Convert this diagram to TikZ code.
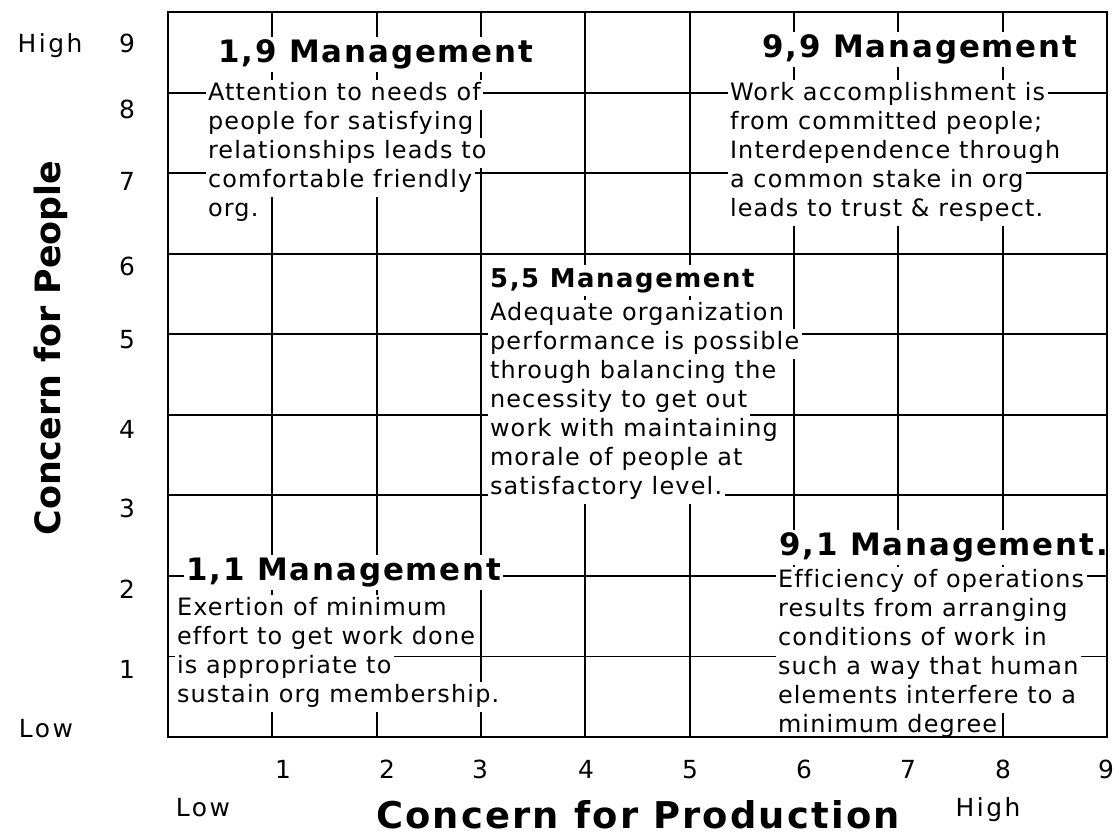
\documentclass[tikz,border=0pt]{standalone}
\usepackage{fontspec}
\setmainfont{DejaVu Sans}[Ligatures=NoCommon]
\usetikzlibrary{positioning}

\tikzset{
  gridline/.style={line width=1.9bp},
  border/.style={line width=2.4bp},
  head/.style={anchor=base west, fill=white, inner xsep=2bp, inner ysep=2bp,
    text height=23bp, text depth=8bp,
    font=\fontsize{31}{36}\selectfont\bfseries\addfontfeature{LetterSpace=6}},
  subhead/.style={head, text height=20bp, text depth=7bp,
    font=\fontsize{26}{31}\selectfont\bfseries\addfontfeature{LetterSpace=6}},
  body/.style={anchor=base west, fill=white, draw=white, line width=1bp, outer sep=0pt,
    inner xsep=2bp, inner ysep=3bp, text height=17bp, text depth=6bp,
    font=\fontsize{24}{29}\selectfont\addfontfeature{LetterSpace=5}},
  ticklabel/.style={anchor=base, font=\fontsize{25}{30}\selectfont\addfontfeature{LetterSpace=10}},
  axislabel/.style={anchor=base, font=\fontsize{37}{44}\selectfont\bfseries\addfontfeature{LetterSpace=6}},
}

\begin{document}
\begin{tikzpicture}[x=1bp, y=-1bp]
  \useasboundingbox (0,0) rectangle (1119,838);
  % grid
  \foreach \k in {1,...,8} {
    \draw[gridline] ({168+\k*104.33},12) -- ({168+\k*104.33},737);
    \draw[gridline] (168,{12+\k*80.56}) -- (1107,{12+\k*80.56});
  }

  % 1,9
  \node[head] (tl) at (216,62) {1,9 Management};
  \node[body] (tl1) at (206,100) {Attention to needs of};
  \foreach \txt [count=\i from 2, remember=\i as \j (initially 1)] in
    {people for satisfying, relationships leads to, comfortable friendly, org.}
    \node[body, below=0pt of tl\j.south west, anchor=north west] (tl\i) {\txt};

  % 9,9
  \node[head] (tr) at (760,57) {9,9 Management};
  \node[body] (tr1) at (728,100) {Work accomplishment is};
  \foreach \txt [count=\i from 2, remember=\i as \j (initially 1)] in
    {from committed people;, Interdependence through, a common stake in org, leads to trust \& respect.}
    \node[body, below=0pt of tr\j.south west, anchor=north west] (tr\i) {\txt};

  % 5,5
  \node[subhead] (mid) at (488,287) {5,5 Management};
  \node[body] (mid1) at (488,320) {Adequate organization};
  \foreach \txt [count=\i from 2, remember=\i as \j (initially 1)] in
    {performance is possible, through balancing the, necessity to get out,
     work with maintaining, morale of people at, satisfactory level.}
    \node[body, below=0pt of mid\j.south west, anchor=north west] (mid\i) {\txt};

  % 1,1
  \node[head] (bl) at (184,580) {1,1 Management};
  \node[body] (bl1) at (175,615) {Exertion of minimum};
  \foreach \txt [count=\i from 2, remember=\i as \j (initially 1)] in
    {effort to get work done, is appropriate to, sustain org membership.}
    \node[body, below=0pt of bl\j.south west, anchor=north west] (bl\i) {\txt};

  % 9,1
  \node[head] (br) at (777,555) {9,1 Management.};
  \node[body] (br1) at (776,587) {Efficiency of operations};
  \foreach \txt [count=\i from 2, remember=\i as \j (initially 1)] in
    {results from arranging, conditions of work in, such a way that human,
     elements interfere to a, minimum degree}
    \node[body, below=0pt of br\j.south west, anchor=north west] (br\i) {\txt};

  \draw[border] (168,12) rectangle (1107,737);

  % scales
  \foreach \n/\y in {9/52, 8/118, 7/190, 6/275, 5/348, 4/438, 3/517, 2/598, 1/678}
    \node[ticklabel] (p\n) at (127,\y) {\n};
  \foreach \n/\x in {1/283, 2/387, 3/480, 4/586, 5/690, 6/804, 7/908, 8/1003, 9/1106}
    \node[ticklabel] (q\n) at (\x,778) {\n};
  \node[ticklabel] (phigh) at (50,52) {High};
  \node[ticklabel] (plow) at (46,737) {Low};
  \node[ticklabel] (qlow) at (203,816) {Low};
  \node[ticklabel] (qhigh) at (988,816) {High};
  \node[axislabel] (prod) at (638,828) {Concern for Production};
  \node[axislabel, rotate=90, font=\fontsize{35}{42}\selectfont\bfseries] (people) at (60,348) {Concern for People};
\end{tikzpicture}
\end{document}
